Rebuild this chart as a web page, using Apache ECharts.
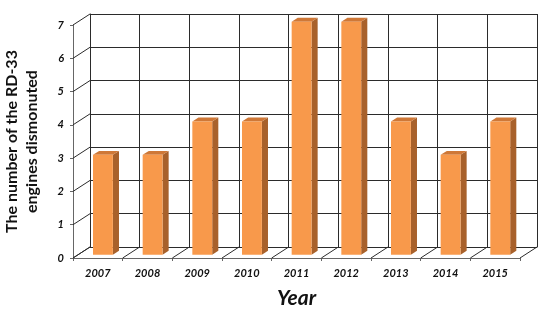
<!DOCTYPE html>
<html>
<head>
<meta charset="utf-8">
<script src="https://cdn.jsdelivr.net/npm/echarts@6/dist/echarts.min.js"></script>
<style>
  html, body { margin: 0; padding: 0; background: #fff; }
  #chart { width: 550px; height: 312px; }
</style>
</head>
<body>
<div id="chart"></div>
<script>
const years = ["2007", "2008", "2009", "2010", "2011", "2012", "2013", "2014", "2015"];
const engines = [3, 3, 4, 4, 7, 7, 4, 3, 4];
const yTicks = [0, 1, 2, 3, 4, 5, 6, 7];

// depth offset of the back wall (px) and where the bars sit in that depth
const DX = 17, DY = -11;
const F0 = 0.3, F1 = 0.66;
const FONT = "Lato, 'Open Sans', sans-serif";
const LINE = "#2b2b2b";

const chart = echarts.init(document.getElementById("chart"));

const line = (x1, y1, x2, y2) => ({
  type: "line",
  shape: { x1, y1, x2, y2 },
  style: { stroke: LINE, lineWidth: 1 },
});

const option = {
  animation: false,
  grid: [
    { left: 73, top: 25, width: 447, height: 233, outerBoundsMode: "none", containLabel: false },
    { left: 90, top: 14, width: 447, height: 233, outerBoundsMode: "none", containLabel: false },
  ],
  xAxis: [
    {
      type: "category",
      gridIndex: 0,
      data: years,
      axisLine: { lineStyle: { color: "#666" } },
      axisTick: { show: true, length: 3, lineStyle: { color: "#666" } },
      axisLabel: {
        color: "#111",
        fontFamily: FONT,
        fontSize: 11,
        fontWeight: "bold",
        fontStyle: "italic",
        margin: 10,
      },
      name: "Year",
      nameLocation: "middle",
      nameGap: 30,
      nameMoveOverlap: false,
      nameTextStyle: {
        color: "#111",
        fontFamily: FONT,
        fontSize: 21,
        fontWeight: "bold",
        fontStyle: "italic",
      },
    },
    {
      type: "category",
      gridIndex: 1,
      data: years,
      axisLine: { lineStyle: { color: LINE } },
      axisTick: { show: false },
      axisLabel: { show: false },
      splitLine: { show: true, lineStyle: { color: LINE } },
    },
  ],
  yAxis: [
    {
      type: "value",
      gridIndex: 0,
      min: 0,
      max: 7,
      interval: 1,
      axisLine: { show: true, lineStyle: { color: "#666" } },
      axisTick: { show: true, length: 3, lineStyle: { color: "#666" } },
      splitLine: { show: false },
      axisLabel: {
        color: "#111",
        fontFamily: FONT,
        fontSize: 11,
        fontWeight: "bold",
        fontStyle: "italic",
        margin: 9,
      },
      name: "The number of the RD-33\nengines dismonuted",
      nameLocation: "middle",
      nameGap: 31,
      nameMoveOverlap: false,
      nameRotate: 90,
      nameTextStyle: {
        color: "#111",
        fontFamily: FONT,
        fontSize: 16,
        fontWeight: "bold",
        lineHeight: 20,
      },
    },
    {
      type: "value",
      gridIndex: 1,
      min: 0,
      max: 7,
      interval: 1,
      axisLine: { show: true, lineStyle: { color: LINE } },
      axisTick: { show: false },
      axisLabel: { show: false },
      splitLine: { show: true, lineStyle: { color: LINE } },
    },
  ],
  series: [
    {
      // left wall: diagonals from the front axis to the back wall
      type: "custom",
      xAxisIndex: 0,
      yAxisIndex: 0,
      data: yTicks.map((v) => [0, v]),
      silent: true,
      renderItem: (params, api) => {
        const x = params.coordSys.x;
        const y = api.coord([0, api.value(1)])[1];
        return line(x, y, x + DX, y + DY);
      },
    },
    {
      // floor: diagonals at every category boundary
      type: "custom",
      xAxisIndex: 0,
      yAxisIndex: 0,
      data: years.map((_, i) => [i, 0]),
      silent: true,
      renderItem: (params, api) => {
        const p = api.coord([api.value(0), 0]);
        const half = api.size([1, 0])[0] / 2;
        const children = [line(p[0] - half, p[1], p[0] - half + DX, p[1] + DY)];
        if (params.dataIndex === years.length - 1) {
          children.push(line(p[0] + half, p[1], p[0] + half + DX, p[1] + DY));
        }
        return { type: "group", children };
      },
    },
    {
      // 3D-looking columns
      type: "custom",
      xAxisIndex: 0,
      yAxisIndex: 0,
      data: engines.map((v, i) => [i, v]),
      renderItem: (params, api) => {
        const top = api.coord([api.value(0), api.value(1)]);
        const base = api.coord([api.value(0), 0]);
        const bw = api.size([1, 0])[0] * 0.4;
        const x0 = top[0] - bw / 2 + F0 * DX;
        const yt = top[1] + F0 * DY;
        const yb = base[1] + F0 * DY;
        const dx = (F1 - F0) * DX;
        const dy = (F1 - F0) * DY;
        return {
          type: "group",
          children: [
            {
              type: "polygon",
              shape: { points: [[x0 + bw, yt], [x0 + bw + dx, yt + dy], [x0 + bw + dx, yb + dy], [x0 + bw, yb]] },
              style: { fill: "#a8612b" },
            },
            {
              type: "polygon",
              shape: { points: [[x0, yt], [x0 + bw, yt], [x0 + bw + dx, yt + dy], [x0 + dx, yt + dy]] },
              style: { fill: "#cf7837" },
            },
            {
              type: "rect",
              shape: { x: x0, y: yt, width: bw, height: yb - yt },
              style: { fill: "#f8994b" },
            },
          ],
        };
      },
    },
  ],
};

chart.setOption(option);
</script>
</body>
</html>
